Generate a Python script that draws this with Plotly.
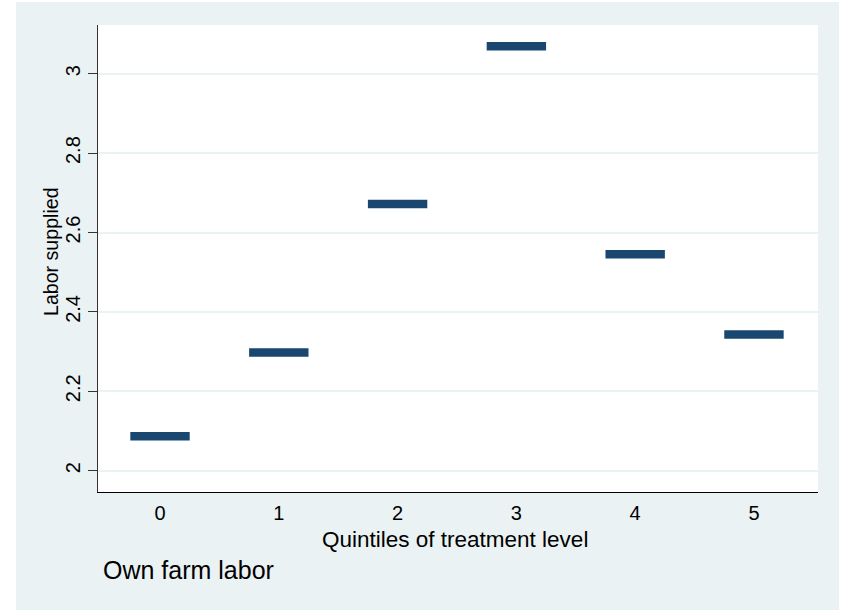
import plotly.graph_objects as go

# Data
categories = [0, 1, 2, 3, 4, 5]
labor_supplied = [2.087, 2.298, 2.672, 3.069, 2.545, 2.343]
x_tick_labels = ["0", "1", "2", "3", "4", "5"]
y_tick_vals = [2.0, 2.2, 2.4, 2.6, 2.8, 3.0]
y_tick_labels = ["2", "2.2", "2.4", "2.6", "2.8", "3"]
half_width = 0.25

xs, ys = [], []
for c, v in zip(categories, labor_supplied):
    xs += [c - half_width, c + half_width, None]
    ys += [v, v, None]

NAVY = "#1a476f"
BG = "#EAF2F3"
FONT = "Liberation Sans, Arial, Helvetica, sans-serif"

fig = go.Figure()
fig.add_trace(go.Scatter(x=xs, y=ys, mode="lines",
                         line=dict(color=NAVY, width=8.5),
                         hoverinfo="skip", showlegend=False))

W, H = 846, 610
L, R, T, B = 98, 28, 25, 118
pw, ph = W - L - R, H - T - B

def px(x):
    return (x - L) / pw

def py(y):
    return (H - B - y) / ph

fig.update_layout(
    width=W, height=H,
    margin=dict(l=L, r=R, t=T, b=B, autoexpand=False),
    paper_bgcolor="white", plot_bgcolor="white",
    font=dict(family=FONT, color="black", size=20),
    showlegend=False,
    shapes=[
        dict(type="rect", xref="paper", yref="paper", layer="below",
             x0=px(16), x1=px(839), y0=py(610), y1=py(2),
             fillcolor=BG, line=dict(width=0)),
        dict(type="rect", xref="paper", yref="paper", layer="below",
             x0=0, x1=1, y0=0, y1=1,
             fillcolor="white", line=dict(width=0)),
    ],
    annotations=[
        dict(text="Quintiles of treatment level", xref="paper", yref="paper",
             x=px(454.5), y=py(539.5), xanchor="center", yanchor="middle",
             showarrow=False, font=dict(size=22.5, family=FONT, color="black")),
        dict(text="Labor supplied", xref="paper", yref="paper",
             x=px(51), y=py(252), xanchor="center", yanchor="middle",
             textangle=-90, showarrow=False,
             font=dict(size=19.6, family=FONT, color="black")),
        dict(text="Own farm labor", xref="paper", yref="paper",
             x=px(100.5), y=py(570), xanchor="left", yanchor="middle",
             showarrow=False, font=dict(size=25, family=FONT, color="black")),
    ],
)

fig.update_xaxes(
    range=[-0.522, 5.539], tickmode="array", tickvals=categories,
    ticktext=x_tick_labels, ticks="", showgrid=False, zeroline=False,
    showline=True, linecolor="black", linewidth=1, ticklabelstandoff=3,
    tickfont=dict(size=20, family=FONT, color="black"),
)
fig.update_yaxes(
    range=[1.9463, 3.1228], tickmode="array", tickvals=y_tick_vals,
    ticktext=y_tick_labels, ticks="outside", ticklen=9, tickwidth=1,
    tickcolor="#333333", tickangle=-90,
    showgrid=True, gridcolor="#EAF2F3", gridwidth=1.5, zeroline=False,
    showline=True, linecolor="#333333", linewidth=1,
    tickfont=dict(size=20, family=FONT, color="black"),
)

fig.write_html(
    "out.html",
    config={"displayModeBar": False},
    post_script="document.body.style.margin='0';document.body.style.padding='0';",
)
